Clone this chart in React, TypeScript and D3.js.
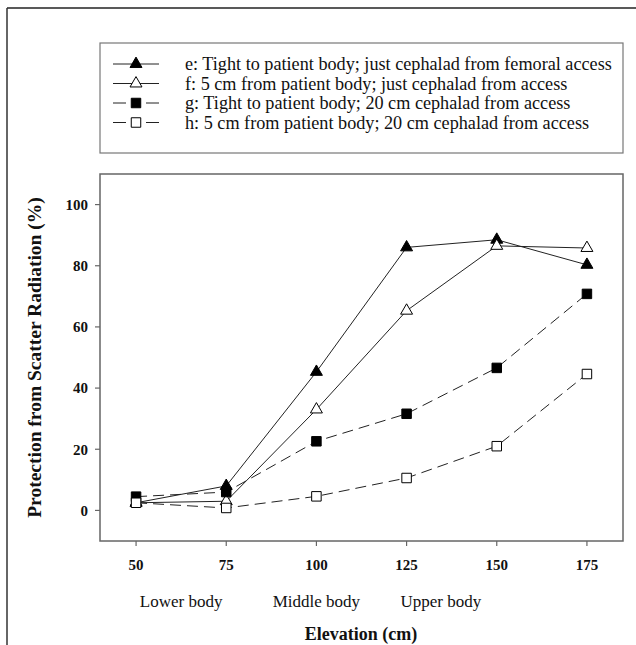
import React from 'react';
import * as d3 from 'd3';

const elevations = [50, 75, 100, 125, 150, 175];
const seriesE = [2.5, 8, 45.3, 86, 88.5, 80.3];
const seriesF = [2.5, 3, 33, 65.3, 86.5, 85.8];
const seriesG = [4.5, 6, 22.6, 31.6, 46.6, 70.8];
const seriesH = [2.5, 0.8, 4.6, 10.6, 21, 44.6];
const legendLabels = [
  'e: Tight to patient body; just cephalad from femoral access',
  'f: 5 cm from patient body; just cephalad from access',
  'g: Tight to patient body; 20 cm cephalad from access',
  'h: 5 cm from patient body; 20 cm cephalad from access',
];
const yTicks = [0, 20, 40, 60, 80, 100];
const zoneLabels = ['Lower body', 'Middle body', 'Upper body'];
const zoneCenters = [62.5, 100, 134.5];

const series = [
  { values: seriesE, marker: 'triangle', filled: true, dashed: false },
  { values: seriesF, marker: 'triangle', filled: false, dashed: false },
  { values: seriesG, marker: 'square', filled: true, dashed: true },
  { values: seriesH, marker: 'square', filled: false, dashed: true },
];

const W = 636;
const H = 645;
const plot = { left: 100, right: 623, top: 174, bottom: 541 };
const serif = "'Liberation Serif', 'Times New Roman', 'DejaVu Serif', serif";

const Marker = ({ x, y, type, filled }: { x: number; y: number; type: string; filled: boolean }) => {
  const sym = d3.symbol().type(type === 'triangle' ? d3.symbolTriangle : d3.symbolSquare).size(type === 'triangle' ? 62 : 90);
  return (
    <path
      d={sym() as string}
      transform={`translate(${x},${y})`}
      fill={filled ? '#000' : '#fff'}
      stroke="#000"
      strokeWidth={1}
    />
  );
};

export default function App() {
  const x = d3.scaleLinear().domain([40, 185]).range([plot.left, plot.right]);
  const y = d3.scaleLinear().domain([-10, 110]).range([plot.bottom, plot.top]);
  const line = d3
    .line<number>()
    .x((_, i) => x(elevations[i]))
    .y((d) => y(d));

  return (
    <div style={{ position: 'absolute', left: 0, top: 0 }}>
      <svg width={W} height={H} style={{ display: 'block', background: '#fff', fontFamily: serif }}>
        {/* outer frame */}
        <line x1={7} y1={8} x2={W} y2={8} stroke="#222" strokeWidth={1.5} />
        <line x1={7} y1={8} x2={7} y2={H} stroke="#333" strokeWidth={1.5} />

        {/* legend */}
        <rect x={100} y={43} width={523} height={110} fill="#fff" stroke="#777" strokeWidth={1.2} />
        {series.map((s, i) => {
          const ly = 64 + i * 19.5;
          return (
            <g key={i}>
              {s.dashed ? (
                <>
                  <line x1={113} x2={126} y1={ly} y2={ly} stroke="#222" strokeWidth={1} />
                  <line x1={146} x2={159} y1={ly} y2={ly} stroke="#222" strokeWidth={1} />
                </>
              ) : (
                <line x1={113} x2={159} y1={ly} y2={ly} stroke="#222" strokeWidth={1} />
              )}
              <Marker x={136} y={ly} type={s.marker} filled={s.filled} />
              <text x={185} y={ly} dy="0.35em" fontSize={18.2} fill="#111">
                {legendLabels[i]}
              </text>
            </g>
          );
        })}

        {/* plot frame */}
        <rect
          x={plot.left}
          y={plot.top}
          width={plot.right - plot.left}
          height={plot.bottom - plot.top}
          fill="none"
          stroke="#666"
          strokeWidth={1.5}
        />

        {/* y axis */}
        {yTicks.map((t) => (
          <g key={t}>
            <line x1={plot.left - 5} x2={plot.left} y1={y(t)} y2={y(t)} stroke="#666" strokeWidth={1.2} />
            <text
              x={plot.left - 12}
              y={y(t)}
              dy="0.35em"
              textAnchor="end"
              fontSize={15}
              fontWeight="bold"
              fill="#111"
            >
              {t}
            </text>
          </g>
        ))}
        <text
          transform={`translate(34,${(plot.top + plot.bottom) / 2}) rotate(-90)`}
          textAnchor="middle"
          dy="0.35em"
          fontSize={19.5}
          fontWeight="bold"
          fill="#111"
        >
          Protection from Scatter Radiation (%)
        </text>

        {/* x axis */}
        {elevations.map((t) => (
          <g key={t}>
            <line x1={x(t)} x2={x(t)} y1={plot.bottom} y2={plot.bottom + 5} stroke="#666" strokeWidth={1.2} />
            <text x={x(t)} y={565} dy="0.35em" textAnchor="middle" fontSize={15} fontWeight="bold" fill="#111">
              {t}
            </text>
          </g>
        ))}
        {zoneLabels.map((z, i) => (
          <text key={z} x={x(zoneCenters[i])} y={601} dy="0.35em" textAnchor="middle" fontSize={17} fill="#111">
            {z}
          </text>
        ))}
        <text x={361} y={634} dy="0.35em" textAnchor="middle" fontSize={18} fontWeight="bold" fill="#111">
          Elevation (cm)
        </text>

        {/* series lines */}
        {series.map((s, i) => (
          <path
            key={i}
            d={line(s.values) as string}
            fill="none"
            stroke="#222"
            strokeWidth={1}
            strokeDasharray={s.dashed ? '11,6' : undefined}
          />
        ))}
        {/* markers */}
        {series.map((s, i) => (
          <g key={i}>
            {s.values.map((v, j) => (
              <Marker key={j} x={x(elevations[j])} y={y(v)} type={s.marker} filled={s.filled} />
            ))}
          </g>
        ))}
      </svg>
    </div>
  );
}
